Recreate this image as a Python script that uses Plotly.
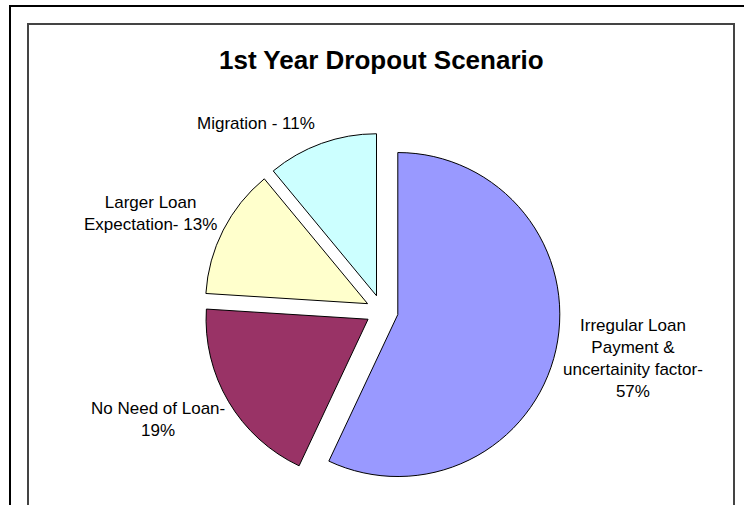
import plotly.graph_objects as go

# ---- data ----
categories = ["Irregular Loan Payment & uncertainity factor", "No Need of Loan",
              "Larger Loan Expectation", "Migration"]
values = [57, 19, 13, 11]
label_prefix = ["Irregular Loan<br>Payment &<br>uncertainity factor-<br>",
                "No Need of Loan-<br>",
                "Larger Loan<br>Expectation- ",
                "Migration - "]
colors = ["#9999FF", "#993366", "#FFFFCC", "#CCFFFF"]
title_text = "1st Year Dropout Scenario"

W, H = 744, 505
FONT = "Liberation Sans, Arial, Helvetica, sans-serif"

# pie geometry (pixels): centre and radius, slices pulled by 10 %
cx, cy, R, pull = 382, 311, 162, 0.10
box = 2 * R * (1 + pull)

fig = go.Figure(go.Pie(
    labels=categories,
    values=values,
    sort=False,
    direction="clockwise",
    rotation=0,
    pull=[pull] * len(values),
    marker=dict(colors=colors, line=dict(color="#000000", width=1)),
    textinfo="none",
    hoverinfo="skip",
    showlegend=False,
    domain=dict(x=[(cx - box / 2) / W, (cx + box / 2) / W],
                y=[1 - (cy + box / 2) / H, 1 - (cy - box / 2) / H]),
))

# label centres in pixels
label_pos = [(633, 358), (158, 419), (150, 214), (256, 123)]
annotations = []
for pre, v, (lx, ly) in zip(label_prefix, values, label_pos):
    annotations.append(dict(
        text=f"{pre}{v}%", x=lx / W, y=1 - ly / H, xref="paper", yref="paper",
        xanchor="center", yanchor="middle", showarrow=False, align="center",
        font=dict(family=FONT, size=17, color="#000000")))
annotations.append(dict(
    text=f"<b>{title_text}</b>", x=381.5 / W, y=1 - 60 / H, xref="paper", yref="paper",
    xanchor="center", yanchor="middle", showarrow=False,
    font=dict(family=FONT, size=26, color="#000000")))

shapes = [
    # outer chart border
    dict(type="rect", xref="paper", yref="paper",
         x0=10 / W, x1=(W + 20) / W, y0=-20 / H, y1=1 - 6 / H,
         line=dict(color="#000000", width=2), fillcolor="rgba(0,0,0,0)"),
    # inner plot border
    dict(type="rect", xref="paper", yref="paper",
         x0=28 / W, x1=734 / W, y0=-20 / H, y1=1 - 24 / H,
         line=dict(color="#444444", width=2), fillcolor="rgba(0,0,0,0)"),
]

fig.update_layout(
    width=W, height=H,
    margin=dict(l=0, r=0, t=0, b=0),
    paper_bgcolor="#FFFFFF", plot_bgcolor="#FFFFFF",
    annotations=annotations, shapes=shapes,
    font=dict(family=FONT),
)

fig.write_html("out.html")
